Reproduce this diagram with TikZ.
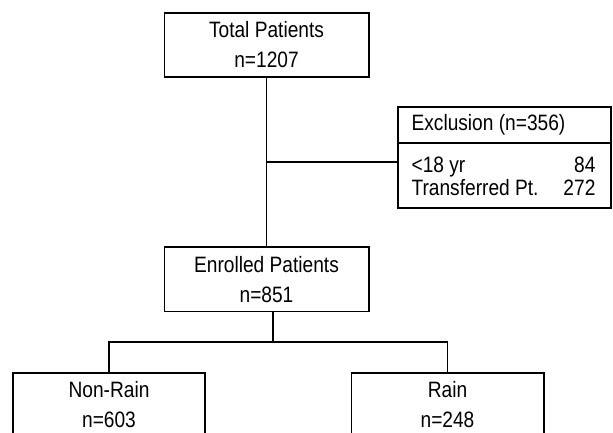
\documentclass[tikz,border=0pt]{standalone}
\usepackage{fontspec}
\setmainfont{Liberation Sans}[FakeStretch=0.86]

\begin{document}
\begin{tikzpicture}[x=0.03cm, y=-0.03cm, line width=1pt,
	main/.style = {draw, line width=1.7pt, minimum width=6.12cm, minimum height=1.92cm, align=center, font=\fontsize{19}{25.6}\selectfont},
	side/.style = {draw, line width=1.7pt, minimum width=6.39cm},
	txt/.style = {inner sep=0pt, font=\fontsize{19}{23}\selectfont}]
	\useasboundingbox (0,0) rectangle (613,433);
	\clip (0,0) rectangle (613,433);
	\node[main] (1) at (266.5,45) {Total Patients\\n=1207};
	\node[main] (2) at (266.5,279.5) {Enrolled Patients\\n=851};
	\node[main, minimum width=5.76cm] (3) at (109,405) {Non-Rain\\n=603};
	\node[main, minimum width=5.76cm] (4) at (447.5,405) {Rain\\n=248};
	\node[side, minimum height=3.03cm] (5) at (504.5,157.5) {};
	\node[side, minimum height=1.08cm, anchor=north west] (6) at (5.north west) {};
	\node[txt, anchor=base west] (7) at (411,131) {Exclusion (n=356)};
	\node[txt, anchor=base west] (8) at (411,173) {<18 yr};
	\node[txt, anchor=base east] (9) at (596,173) {84};
	\node[txt, anchor=base west] (10) at (411,196) {Transferred Pt.};
	\node[txt, anchor=base east] (11) at (596,196) {272};
	\coordinate (a) at (266.5,162);
	\coordinate (b) at (273,342);
	\draw (1)--(2);
	\draw (a)--(a -| 5.west);
	\draw (b |- 2.south)--(b);
	\draw (3.north) |- (b) -| (4.north);
\end{tikzpicture}
\end{document}
